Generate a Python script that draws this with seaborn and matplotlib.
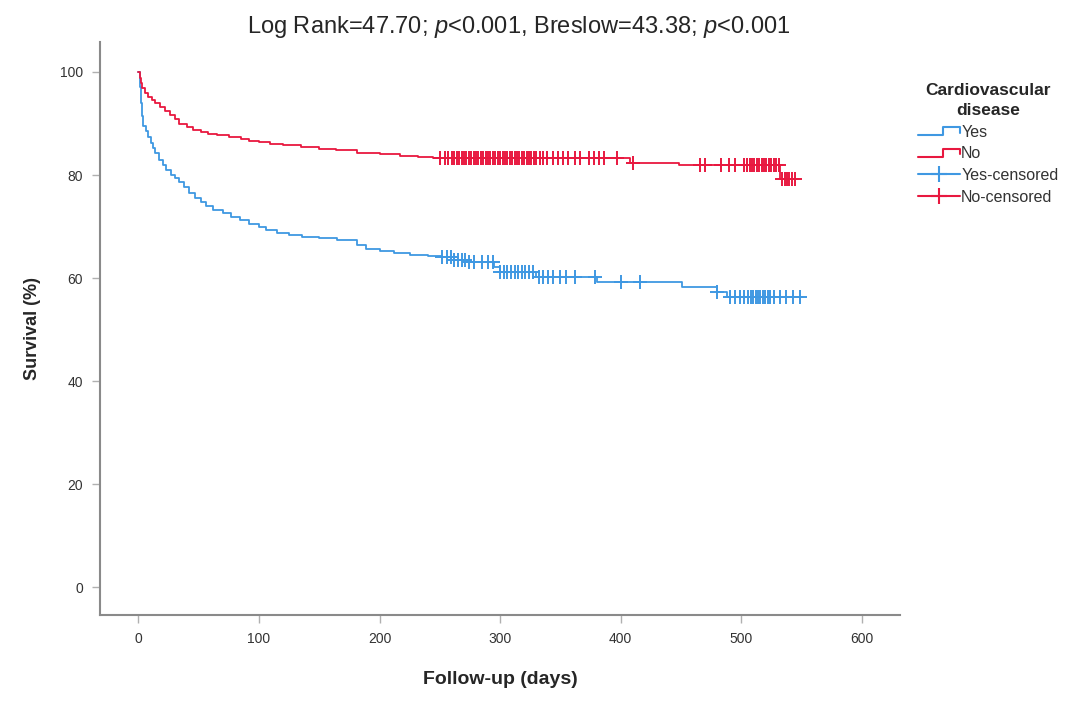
import numpy as np
import pandas as pd
import seaborn as sns
import matplotlib.pyplot as plt
from matplotlib.lines import Line2D
from matplotlib.legend_handler import HandlerBase

# Curvas Kaplan-Meier (tiempo en dias, supervivencia en %)
no_t = [0, 1, 2, 3, 5, 8, 11, 14, 18, 22, 26, 30, 34, 40, 45, 52, 58, 65, 75, 85,
        92, 100, 109, 120, 135, 150, 164, 181, 200, 217, 232, 244, 408, 448, 532]
no_s = [100, 98.8, 97.8, 96.8, 96.0, 95.2, 94.6, 94.0, 93.2, 92.4, 91.6, 90.8, 90.0,
        89.4, 88.8, 88.4, 88.0, 87.7, 87.3, 87.0, 86.7, 86.4, 86.1, 85.8, 85.4, 85.1,
        84.8, 84.3, 84.0, 83.7, 83.5, 83.3, 82.4, 81.9, 79.2]
no_end = 546

yes_t = [0, 1, 2, 3, 4, 6, 8, 10, 12, 14, 17, 20, 23, 27, 30, 34, 38, 42, 47, 52, 56,
         62, 70, 77, 84, 92, 100, 106, 115, 125, 136, 150, 165, 181, 189, 200, 212, 225,
         240, 252, 262, 272, 295, 300, 330, 380, 451, 480, 488]
yes_s = [100, 97, 94, 91.5, 89.5, 88.5, 87.4, 86.2, 85.2, 84.2, 83.0, 82.0, 81.0, 80.0,
         79.4, 78.6, 77.6, 76.6, 75.6, 74.8, 73.9, 73.3, 72.6, 71.9, 71.3, 70.5, 69.9,
         69.3, 68.8, 68.4, 68.0, 67.7, 67.4, 66.4, 65.6, 65.2, 64.9, 64.5, 64.3, 64.1,
         63.6, 63.2, 62.2, 61.2, 60.3, 59.2, 58.3, 57.3, 56.4]
yes_end = 551

# tiempos censurados
no_cens = [250, 254, 257, 260, 262, 264, 266, 268, 270, 272, 274, 276, 278, 280, 282,
           284, 286, 288, 290, 292, 294, 296, 298, 300, 302, 304, 306, 308, 310, 312,
           314, 316, 318, 320, 322, 324, 326, 328, 330, 333, 336, 339, 344, 348, 352,
           356, 362, 366, 374, 378, 382, 386, 397, 410, 466, 470, 483, 490, 495, 502,
           505, 507, 509, 511, 513, 515, 517, 519, 521, 523, 525, 527, 529, 531, 534,
           536, 538, 540, 542, 545]
yes_cens = [252, 256, 259, 262, 265, 268, 271, 274, 278, 285, 290, 294, 300, 303, 306,
            309, 312, 315, 318, 321, 324, 327, 332, 336, 340, 344, 350, 355, 362, 379,
            400, 416, 480, 491, 495, 499, 502, 506, 508, 510, 512, 514, 516, 518, 520,
            522, 524, 527, 532, 537, 543, 549]

groups = ["Yes", "No"]
colors = {"Yes": "#3f98e2", "No": "#e8183f"}
curves = {"Yes": (yes_t, yes_s, yes_end, yes_cens), "No": (no_t, no_s, no_end, no_cens)}

sns.set_style("white")
plt.rcParams['font.family'] = ['Liberation Sans', 'DejaVu Sans']
plt.rcParams['mathtext.fontset'] = 'custom'
plt.rcParams['mathtext.it'] = 'Liberation Sans:italic'
plt.rcParams['mathtext.rm'] = 'Liberation Sans'

fig = plt.figure(figsize=(10.86, 7.02), dpi=100)
ax = fig.add_axes([0.092, 0.124, 0.737, 0.816])

for g in groups:
    t, s, end, cens = curves[g]
    df = pd.DataFrame({"t": t + [end], "s": s + [s[-1]]})
    sns.lineplot(data=df, x="t", y="s", drawstyle="steps-post", estimator=None,
                 color=colors[g], lw=1.3, ax=ax)
    # supervivencia en cada tiempo censurado
    idx = np.searchsorted(t, cens, side="right") - 1
    cdf = pd.DataFrame({"t": cens, "s": np.array(s)[idx]})
    ax.plot(cdf["t"], cdf["s"], ls="none", marker="+", ms=10, mew=1.4, color=colors[g])

ax.set_xlim(-32, 632)
ax.set_ylim(-5.4, 105.8)
ax.set_xticks(range(0, 700, 100))
ax.set_yticks(range(0, 120, 20))
sns.despine(ax=ax)
for sp in ["left", "bottom"]:
    ax.spines[sp].set_color("#8a8a8a")
    ax.spines[sp].set_linewidth(1.5)
ax.tick_params(axis="both", bottom=True, left=True, direction="out", length=6, width=1,
               color="#b0b0b0", labelsize=10, labelcolor="#333333", pad=6)

ax.set_xlabel("Follow-up (days)", fontsize=14, fontweight="bold", labelpad=18)
ax.set_ylabel("Survival (%)", fontsize=13, fontweight="bold", labelpad=14)

fig.text(0.478, 0.962, r"Log Rank=47.70; $\it{p}$<0.001, Breslow=43.38; $\it{p}$<0.001",
         ha="center", va="center", fontsize=17)


class StepHandler(HandlerBase):
    def create_artists(self, legend, orig_handle, xdescent, ydescent, width, height,
                       fontsize, trans):
        x0, y0 = -xdescent, -ydescent
        xs = [x0, x0 + width * 0.6, x0 + width * 0.6, x0 + width, x0 + width]
        ys = [y0 + height * 0.15, y0 + height * 0.15, y0 + height * 0.85,
              y0 + height * 0.85, y0 + height * 0.35]
        return [Line2D(xs, ys, color=orig_handle.get_color(), lw=1.5, transform=trans)]


h_yes = Line2D([], [], color=colors["Yes"])
h_no = Line2D([], [], color=colors["No"])
h_yc = Line2D([0, 1], [0, 0], color=colors["Yes"], marker="+", ms=12, mew=1.5, lw=1.5)
h_nc = Line2D([0, 1], [0, 0], color=colors["No"], marker="+", ms=12, mew=1.5, lw=1.5)
leg = fig.legend([h_yes, h_no, h_yc, h_nc], ["Yes", "No", "Yes-censored", "No-censored"],
                 handler_map={h_yes: StepHandler(), h_no: StepHandler()},
                 loc="upper left", bbox_to_anchor=(0.838, 0.893), frameon=False,
                 fontsize=11.5, title="Cardiovascular\ndisease", handlelength=2.6,
                 handletextpad=0.1, labelspacing=0.42, borderpad=0)
leg.get_title().set_fontweight("bold")
leg.get_title().set_fontsize(12.5)
leg.get_title().set_multialignment("center")
leg.get_title().set_linespacing(1.4)
leg._legend_handle_box.set_offset  # keep default packing
for txt in leg.get_texts():
    txt.set_color("#333333")

fig.savefig("out.png", dpi=100)
